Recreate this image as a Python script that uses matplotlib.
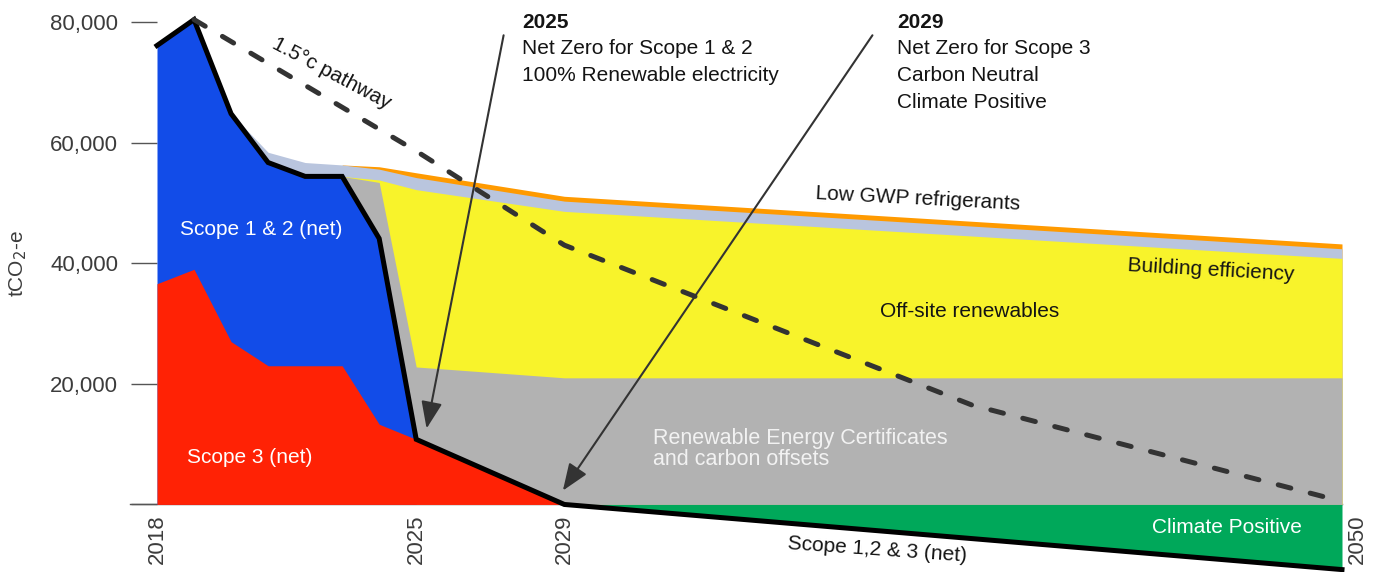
import matplotlib
matplotlib.use("Agg")
import matplotlib.pyplot as plt
import numpy as np
from matplotlib.ticker import FuncFormatter

plt.rcParams["font.family"] = ["Liberation Sans", "DejaVu Sans"]

# values in tCO2-e (thousands)
SCOPE3_YEARS = [2018, 2019, 2020, 2021, 2022, 2023, 2024, 2025, 2029]
SCOPE3 = [36.6, 39.0, 27.0, 23.0, 23.0, 23.0, 13.3, 10.8, 0.0]

NET_YEARS = [2018, 2019, 2020, 2021, 2022, 2023, 2024, 2025, 2029, 2050]
NET = [76.1, 80.4, 64.8, 56.7, 54.4, 54.4, 44.1, 10.8, 0.0, -10.8]

OFFSET_YEARS = [2023, 2024, 2025, 2029, 2050]
OFFSETS_TOP = [54.4, 53.4, 22.8, 21.0, 21.0]
RENEWABLES_TOP = [54.4, 53.8, 52.2, 48.6, 40.8]

EFFICIENCY_YEARS = [2020, 2021, 2022, 2023, 2024, 2025, 2029, 2050]
EFFICIENCY_TOP = [64.8, 58.4, 56.7, 56.3, 55.6, 54.2, 50.3, 42.4]

REFRIG_YEARS = [2023, 2024, 2025, 2029, 2050]
REFRIG_TOP = [56.3, 56.0, 55.0, 51.1, 43.2]

PATHWAY_YEARS = [2019, 2025, 2029, 2040, 2050]
PATHWAY = [80.4, 58.6, 43.0, 16.5, 0.5]

Y_TICKS = [0, 20, 40, 60, 80]
X_LABELS = [2018, 2025, 2029, 2050]

BLUE = "#124CE8"
RED = "#FF2205"
GREY = "#B2B2B2"
YELLOW = "#F8F32B"
LIGHT = "#B9C5DE"
ORANGE = "#FF9A00"
GREEN = "#00A85A"
DARK = "#333333"


def k(values):
    return np.asarray(values, dtype=float) * 1000


fig = plt.figure(figsize=(13.8, 5.72), dpi=100)
ax = fig.add_axes([157 / 1380, 0, 1185 / 1380, 1])
ax.set_xlim(2018, 2050)
ax.set_ylim(-11200, 83650)

# baseline at zero, extends into tick area
ax.plot([2018 - 27 / 37.03, 2050], [0, 0], color="#555555", lw=1, clip_on=False, zorder=1)

# stacked bands, tallest first
ax.fill_between(REFRIG_YEARS, 0, k(REFRIG_TOP), color=ORANGE, lw=0, zorder=2)
ax.fill_between(EFFICIENCY_YEARS, 0, k(EFFICIENCY_TOP), color=LIGHT, lw=0, zorder=2)
ax.fill_between(OFFSET_YEARS, 0, k(RENEWABLES_TOP), color=YELLOW, lw=0, zorder=2)
ax.fill_between(OFFSET_YEARS, 0, k(OFFSETS_TOP), color=GREY, lw=0, zorder=2)
ax.fill_between(NET_YEARS[:8], 0, k(NET[:8]), color=BLUE, lw=0, zorder=3)
ax.fill_between(SCOPE3_YEARS, 0, k(SCOPE3), color=RED, lw=0, zorder=3)
ax.fill_between(NET_YEARS[8:], k(NET[8:]), 0, color=GREEN, lw=0, zorder=3)

ax.plot(NET_YEARS, k(NET), color="black", lw=3.6, solid_joinstyle="miter",
        clip_on=False, zorder=5)
ax.plot(PATHWAY_YEARS, k(PATHWAY), color=DARK, lw=3.6, linestyle=(0, (2.6, 4.0)),
        dash_capstyle="round", zorder=6)

# arrows to milestones
arrow = dict(arrowstyle="-|>,head_length=0.59,head_width=0.23", color=DARK, lw=1.5,
             mutation_scale=28, shrinkA=0, shrinkB=0)
ax.annotate("", xy=(2025.28, 12600), xytext=(2027.36, 77800), arrowprops=arrow, zorder=7)
ax.annotate("", xy=(2028.96, 2300), xytext=(2037.32, 77800), arrowprops=arrow, zorder=7)

txt = "#141414"
ax.text(2027.86, 79900, "2025", fontsize=15, fontweight="bold", color=txt, va="center")
ax.text(2027.86, 75600, "Net Zero for Scope 1 & 2", fontsize=15, color=txt, va="center")
ax.text(2027.86, 71100, "100% Renewable electricity", fontsize=15, color=txt, va="center")
ax.text(2037.98, 79900, "2029", fontsize=15, fontweight="bold", color=txt, va="center")
ax.text(2037.98, 75600, "Net Zero for Scope 3", fontsize=15, color=txt, va="center")
ax.text(2037.98, 71100, "Carbon Neutral", fontsize=15, color=txt, va="center")
ax.text(2037.98, 66700, "Climate Positive", fontsize=15, color=txt, va="center")

ax.text(2022.7, 71500, "1.5°c pathway", fontsize=15, color=txt, rotation=-28,
        ha="center", va="center", rotation_mode="anchor", zorder=7)
ax.text(2020.81, 45600, "Scope 1 & 2 (net)", fontsize=15, color="white",
        ha="center", va="center", zorder=7)
ax.text(2020.51, 7800, "Scope 3 (net)", fontsize=15, color="white",
        ha="center", va="center", zorder=7)
ax.text(2038.55, 50700, "Low GWP refrigerants", fontsize=15, color=txt, rotation=-3,
        ha="center", va="center", rotation_mode="anchor", zorder=7)
ax.text(2046.46, 38800, "Building efficiency", fontsize=15, color=txt, rotation=-3.2,
        ha="center", va="center", rotation_mode="anchor", zorder=7)
ax.text(2039.95, 32000, "Off-site renewables", fontsize=15, color=txt,
        ha="center", va="center", zorder=7)
ax.text(2031.39, 9200, "Renewable Energy Certificates\nand carbon offsets", fontsize=15.5,
        color="#F2F2F2", ha="left", va="center", linespacing=1.05, zorder=7)
ax.text(2046.9, -3800, "Climate Positive", fontsize=15, color="white",
        ha="center", va="center", zorder=7)
ax.text(2037.44, -7500, "Scope 1,2 & 3 (net)", fontsize=15, color=txt, rotation=-4,
        ha="center", va="center", rotation_mode="anchor", zorder=7)

# axes styling
for side in ax.spines.values():
    side.set_visible(False)
ax.set_xticks([])
ax.set_yticks(k(Y_TICKS))
ax.yaxis.set_major_formatter(FuncFormatter(lambda v, p: "" if v == 0 else f"{v:,.0f}"))
ax.tick_params(axis="y", length=19, width=1, color="#555555", pad=9,
               labelsize=16, labelcolor="#3C3C3C")

for yr in X_LABELS:
    ax.text(yr if yr < 2050 else yr + 0.42, -1700, str(yr), rotation=90, fontsize=16,
            color="#3C3C3C", ha="center", va="top", clip_on=False)

fig.text(18 / 1380, 1 - 264 / 572, "tCO$_2$-e", rotation=90, fontsize=15,
         color="#3C3C3C", ha="center", va="center")

fig.savefig("out.png", dpi=100)
